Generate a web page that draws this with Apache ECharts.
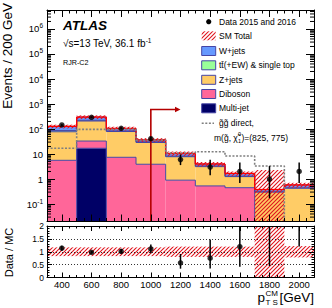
<!DOCTYPE html>
<html><head><meta charset="utf-8">
<script src="https://cdn.jsdelivr.net/npm/echarts@6/dist/echarts.min.js"></script>
<style>html,body{margin:0;padding:0;background:#fff}#c{width:332px;height:308px}</style>
</head><body><div id="c"></div>
<script>
// ---------------- data ----------------
const binLow  = [300, 500, 700, 900, 1100, 1300, 1500, 1700, 1900];
const binHigh = [500, 700, 900, 1100, 1300, 1500, 1700, 1900, 2100];
const binLabels = ['400', '600', '800', '1000', '1200', '1400', '1600', '1800', '2000'];
const multijet = [0, 17, 0, 0, 0, 0, 0, 0, 0];
const diboson  = [5.6, 16, 7.4, 3.9, 0.9, 0.53, 0.45, 0, 0];
const zjets    = [72, 176, 72, 25, 6.9, 2.6, 0.8, 0.3, 0.43];
const ttbar    = [9, 14, 5, 2, 0.4, 0.2, 0.05, 0.01, 0.01];
const wjets    = [41, 78, 21, 6, 2.3, 0.67, 0.37, 0.07, 0.14];
const smUncUp   = [0.17, 0.17, 0.17, 0.17, 0.2, 0.2, 0.2, 5.0, 0.22];
const smUncDown = [0.17, 0.17, 0.17, 0.17, 0.2, 0.2, 0.2, 1.0, 0.22];
const dataCounts  = [145, 295, 107, 41, 6, 3, 2, 1, 2];
const dataErrLow  = [133, 278, 97, 34.6, 3.6, 1.4, 0.7, 0.17, 0.7];
const dataErrHigh = [157, 312, 117, 47.4, 9.6, 5.9, 4.6, 3.3, 4.6];
const signal = [17, 97, 100, 36, 11, 12.4, 8.3, 3.3, 0];
const cutValue = 1000, arrowLevel = 600, arrowEnd = 1200;
const ratioTicks = [0, 0.5, 1, 1.5, 2];

// ---------------- setup ----------------
const FONT = '"Liberation Sans", Arial, Helvetica, sans-serif';
const X_MIN = 300, X_MAX = 2100, Y_MIN = 0.02, Y_MAX = 5.75e6;
const OUTLINE = '#4545a5';
const chart = echarts.init(document.getElementById('c'), null, {renderer: 'svg'});

function makeHatch(color, s, lw) {
  const c = document.createElement('canvas'); c.width = s; c.height = s;
  const g = c.getContext('2d'); g.strokeStyle = color; g.lineWidth = lw;
  g.beginPath();
  g.moveTo(-1, s + 1); g.lineTo(s + 1, -1);
  g.moveTo(-1, 1); g.lineTo(1, -1);
  g.moveTo(s - 1, s + 1); g.lineTo(s + 1, s - 1);
  g.stroke();
  return {image: c, repeat: 'repeat'};
}
const HATCH = makeHatch('#e0141e', 4, 1.1);

const comps = [
  {name: 'Multi-jet', vals: multijet, color: '#000066'},
  {name: 'Diboson', vals: diboson, color: '#ff6699'},
  {name: 'Z+jets', vals: zjets, color: '#ffcc66'},
  {name: 'tt̄(+EW) & single top', vals: ttbar, color: '#99ff99'},
  {name: 'W+jets', vals: wjets, color: '#6699ff'}
];
const total = binLow.map((_, i) => comps.reduce((s, c) => s + c.vals[i], 0));
const xMid = binLow.map((l, i) => (l + binHigh[i]) / 2);

function clampY(cs, y) { return Math.max(cs.y, Math.min(cs.y + cs.height, y)); }
function yOf(api, cs, v, isLog) {
  if (isLog && !(v > 0)) return cs.y + cs.height;
  return clampY(cs, api.coord([X_MIN, v])[1]);
}

let cum = binLow.map(() => 0);
const stackSeries = comps.map(c => {
  const lo = cum.slice();
  const hi = cum.map((v, i) => v + c.vals[i]);
  cum = hi;
  return {
    type: 'custom', name: c.name, xAxisIndex: 0, yAxisIndex: 0, z: 3, silent: true,
    data: binLow.map((x, i) => [x, binHigh[i], lo[i], hi[i]]),
    renderItem(params, api) {
      const i = params.dataIndex, cs = params.coordSys;
      const x0 = api.coord([binLow[i], 1])[0], x1 = api.coord([binHigh[i], 1])[0];
      const yLo = yOf(api, cs, lo[i], true), yHi = yOf(api, cs, hi[i], true);
      const ch = [];
      if (yLo - yHi > 0.01) ch.push({type: 'rect', z2: 0, shape: {x: x0, y: yHi, width: x1 - x0, height: yLo - yHi}, style: {fill: c.color}});
      if (c.vals[i] > 0) ch.push({type: 'line', z2: 5, shape: {x1: x0, y1: yHi, x2: x1, y2: yHi}, style: {stroke: OUTLINE, lineWidth: 1}});
      if (i < binLow.length - 1) {
        const yN = yOf(api, cs, hi[i + 1], true);
        if (Math.abs(yN - yHi) > 0.01 && (c.vals[i] > 0 || c.vals[i + 1] > 0))
          ch.push({type: 'line', z2: 5, shape: {x1: x1, y1: yHi, x2: x1, y2: yN}, style: {stroke: OUTLINE, lineWidth: 1}});
      }
      return {type: 'group', children: ch};
    }
  };
});

const smSeries = {
  type: 'custom', name: 'SM Total', xAxisIndex: 0, yAxisIndex: 0, z: 4, silent: true,
  data: binLow.map((x, i) => [x, binHigh[i], total[i]]),
  renderItem(params, api) {
    const i = params.dataIndex, cs = params.coordSys;
    const x0 = api.coord([binLow[i], 1])[0], x1 = api.coord([binHigh[i], 1])[0];
    const yT = yOf(api, cs, total[i], true);
    const yU = yOf(api, cs, total[i] * (1 + smUncUp[i]), true);
    const yD = yOf(api, cs, total[i] * (1 - smUncDown[i]), true);
    const ch = [
      {type: 'rect', shape: {x: x0, y: yU, width: x1 - x0, height: yD - yU}, style: {fill: HATCH}},
      {type: 'line', shape: {x1: x0, y1: yT, x2: x1, y2: yT}, style: {stroke: '#ff0000', lineWidth: 1.3}}
    ];
    if (i < binLow.length - 1) {
      const yN = yOf(api, cs, total[i + 1], true);
      ch.push({type: 'line', shape: {x1: x1, y1: yT, x2: x1, y2: yN}, style: {stroke: '#ff0000', lineWidth: 1.3}});
    }
    return {type: 'group', children: ch};
  }
};

const sigFloor = 1e-4;
const signalSeries = {
  type: 'line', name: 'gg direct', xAxisIndex: 0, yAxisIndex: 0, z: 5, silent: true,
  step: 'end', symbol: 'none', clip: true,
  data: binLow.map((x, i) => [x, Math.max(signal[i], sigFloor)]).concat([[binHigh[binHigh.length - 1], Math.max(signal[signal.length - 1], sigFloor)]]),
  lineStyle: {color: '#7f7f7f', width: 1.6, type: [2, 1.6]}
};

const arrowSeries = {
  type: 'custom', xAxisIndex: 0, yAxisIndex: 0, z: 6, silent: true,
  data: [[cutValue, arrowLevel, arrowEnd]],
  renderItem(params, api) {
    const cs = params.coordSys;
    const p1 = api.coord([cutValue, arrowLevel]), p2 = api.coord([arrowEnd, arrowLevel]);
    const yb = cs.y + cs.height;
    return {type: 'group', children: [
      {type: 'polyline', shape: {points: [[p1[0], yb], [p1[0], p1[1]], [p2[0] - 4, p2[1]]]}, style: {stroke: '#b40000', lineWidth: 1.6, fill: null}},
      {type: 'polygon', shape: {points: [[p2[0], p2[1]], [p2[0] - 5.5, p2[1] - 2.7], [p2[0] - 5.5, p2[1] + 2.7]]}, style: {fill: '#b40000'}}
    ]};
  }
};

function errBarSeries(xi, yi, lows, highs, isLog, z) {
  return {
    type: 'custom', xAxisIndex: xi, yAxisIndex: yi, z: z, silent: true,
    data: xMid.map((x, i) => [x, lows[i], highs[i]]),
    renderItem(params, api) {
      const i = params.dataIndex, cs = params.coordSys;
      const x = api.coord([xMid[i], 1])[0];
      const y1 = yOf(api, cs, lows[i], isLog), y2 = yOf(api, cs, highs[i], isLog);
      return {type: 'line', shape: {x1: x, y1: y1, x2: x, y2: y2}, style: {stroke: '#000', lineWidth: 1.5}};
    }
  };
}

const dataSeries = {
  type: 'scatter', name: 'Data 2015 and 2016', xAxisIndex: 0, yAxisIndex: 0, z: 8, silent: true,
  symbol: 'circle', symbolSize: 5.5, itemStyle: {color: '#000'},
  data: xMid.map((x, i) => [x, dataCounts[i]])
};

// minor log ticks (2..9 x 10^k) drawn through the y scale
const logMinor = [];
for (let k = -2; k <= 6; k++) for (let m = 2; m <= 9; m++) { const v = m * Math.pow(10, k); if (v > Y_MIN && v < Y_MAX) logMinor.push(v); }
const logMinorSeries = {
  type: 'custom', xAxisIndex: 0, yAxisIndex: 0, z: 11, silent: true,
  data: logMinor.map(v => [X_MIN, v]),
  renderItem(params, api) {
    const cs = params.coordSys;
    const y = api.coord([X_MIN, logMinor[params.dataIndex]])[1];
    return {type: 'group', children: [
      {type: 'line', shape: {x1: cs.x, y1: y, x2: cs.x + 4, y2: y}, style: {stroke: '#000', lineWidth: 1}},
      {type: 'line', shape: {x1: cs.x + cs.width - 4, y1: y, x2: cs.x + cs.width, y2: y}, style: {stroke: '#000', lineWidth: 1}}
    ]};
  }
};

// ratio panel
const ratioBand = {
  type: 'custom', xAxisIndex: 4, yAxisIndex: 2, z: 4, silent: true,
  data: binLow.map((x, i) => [x, binHigh[i], 1 - smUncDown[i], 1 + smUncUp[i]]),
  renderItem(params, api) {
    const i = params.dataIndex, cs = params.coordSys;
    const x0 = api.coord([binLow[i], 1])[0], x1 = api.coord([binHigh[i], 1])[0];
    const yU = yOf(api, cs, 1 + smUncUp[i], false), yD = yOf(api, cs, 1 - smUncDown[i], false);
    return {type: 'rect', shape: {x: x0, y: yU, width: x1 - x0, height: yD - yU}, style: {fill: HATCH}};
  }
};
const ratioVals = dataCounts.map((d, i) => d / total[i]);
const ratioPoints = {
  type: 'scatter', xAxisIndex: 4, yAxisIndex: 2, z: 8, silent: true, clip: true,
  symbol: 'circle', symbolSize: 5.5, itemStyle: {color: '#000'},
  data: xMid.map((x, i) => [x, ratioVals[i]])
};
const ratioErr = errBarSeries(4, 2, dataErrLow.map((v, i) => v / total[i]), dataErrHigh.map((v, i) => v / total[i]), false, 7);

// ---------------- axes ----------------
function xVal(grid, pos, len) {
  return {type: 'value', gridIndex: grid, position: pos, min: X_MIN, max: X_MAX, interval: 50, z: 10,
    axisLine: {show: true, onZero: false, lineStyle: {color: '#000', width: 1}},
    axisTick: {show: true, inside: true, length: len, lineStyle: {color: '#000', width: 1}},
    axisLabel: {show: false}, splitLine: {show: false}};
}
function xCat(grid, pos, len, labels) {
  return {type: 'category', gridIndex: grid, position: pos, data: binLabels, boundaryGap: true, z: 10,
    axisLine: {show: false, onZero: false},
    axisTick: {show: true, inside: true, alignWithLabel: true, interval: 0, length: len, lineStyle: {color: '#000', width: 1}},
    axisLabel: labels ? {show: true, interval: 0, fontSize: 9.5, lineHeight: 8, color: '#000', margin: 2.5, fontFamily: FONT} : {show: false},
    splitLine: {show: false}};
}
function logLabel(v) {
  const l = Math.log10(v), e = Math.round(l);
  if (Math.abs(l - e) > 1e-6) return '';
  if (e === 0) return '1';
  if (e === 1) return '10';
  return '10{s|' + e + '}';
}
function yLog(pos, labels) {
  return {type: 'log', logBase: 10, gridIndex: 0, position: pos, min: Y_MIN, max: Y_MAX, z: 10,
    axisLine: {show: true, onZero: false, lineStyle: {color: '#000', width: 1}},
    axisTick: {show: true, inside: true, length: 8, lineStyle: {color: '#000', width: 1}},
    axisLabel: labels ? {show: true, formatter: logLabel, fontSize: 9.5, lineHeight: 13, color: '#000', margin: 4, fontFamily: FONT,
      rich: {s: {fontSize: 6.5, lineHeight: 7, verticalAlign: 'top', fontFamily: FONT, color: '#000'}}} : {show: false},
    splitLine: {show: false}};
}
function yRatio(pos, labels) {
  return {type: 'value', gridIndex: 1, position: pos, min: ratioTicks[0], max: ratioTicks[ratioTicks.length - 1], interval: ratioTicks[1] - ratioTicks[0], z: 10,
    axisLine: {show: true, onZero: false, lineStyle: {color: '#000', width: 1}},
    axisTick: {show: true, inside: true, length: 5, lineStyle: {color: '#000', width: 1}},
    minorTick: {show: true, splitNumber: 5, length: 2.5, lineStyle: {color: '#000', width: 1}},
    axisLabel: labels ? {show: true, fontSize: 8.5, color: '#000', margin: 3, fontFamily: FONT} : {show: false},
    splitLine: labels ? {show: true, lineStyle: {color: '#000', width: 0.8, type: [1, 2]}} : {show: false}};
}

// ---------------- legend / texts (graphic) ----------------
const mctx = document.createElement('canvas').getContext('2d');
function tw(t, size, weight) { mctx.font = (weight || '') + ' ' + size + 'px ' + FONT; return mctx.measureText(t).width; }
const LX = 201.7, LT = 219, LFS = 8.5;
const legendRows = [
  {y: 51, c: comps[4]}, {y: 65.3, c: comps[3]}, {y: 79.8, c: comps[2]}, {y: 94, c: comps[1]}, {y: 108.3, c: comps[0]}
];
const g = [];
function txt(x, y, text, size, extra) {
  return {type: 'text', x: x, y: y, style: Object.assign({text: text, fontSize: size, fontFamily: FONT, fill: '#000', textVerticalAlign: 'middle', verticalAlign: 'middle'}, extra || {})};
}
g.push({type: 'circle', shape: {cx: 208.7, cy: 21.7, r: 2.6}, style: {fill: '#000'}});
g.push(txt(LT, 21.7, 'Data 2015 and 2016', LFS));
g.push({type: 'rect', shape: {x: LX, y: 31.3, width: 14, height: 9}, style: {fill: HATCH}});
g.push(txt(LT, 35.7, 'SM Total', LFS));
legendRows.forEach(r => {
  g.push({type: 'rect', shape: {x: LX, y: r.y - 4.5, width: 14, height: 9}, style: {fill: r.c.color, stroke: OUTLINE, lineWidth: 1}});
  g.push(txt(LT, r.y, r.c.name, LFS));
});
g.push({type: 'line', shape: {x1: LX, y1: 123.3, x2: 214, y2: 123.3}, style: {stroke: '#7f7f7f', lineWidth: 1.6, lineDash: [2, 1.6]}});
g.push(txt(LT, 123.3, 'g̃g̃ direct,', LFS));
const mA = 'm(g̃, χ̃', mB = ')=(825, 775)';
const mx = 214, my = 137.7, wA = tw(mA, LFS);
g.push(txt(mx, my, mA, LFS));
g.push(txt(mx + wA + 0.3, my - 3.6, '0', 5.5, {lineHeight: 5}));
g.push(txt(mx + wA + 0.3, my + 3.4, '1', 5.5, {lineHeight: 5}));
g.push(txt(mx + wA + 3.6, my, mB, LFS));
// ATLAS label
g.push(txt(63, 25, 'ATLAS', 13.5, {fontWeight: 'bold', fontStyle: 'italic'}));
g.push({type: 'text', x: 63, y: 43, style: {text: '{a|√s=13 TeV, 36.1 fb}{b|-1}', fontFamily: FONT, verticalAlign: 'middle', textVerticalAlign: 'middle',
  rich: {a: {fontSize: 10, lineHeight: 13, fontFamily: FONT, fill: '#000', color: '#000'}, b: {fontSize: 6.5, lineHeight: 7, verticalAlign: 'top', fontFamily: FONT, fill: '#000', color: '#000'}}}});
g.push(txt(63, 62, 'RJR-C2', 7.2));
// axis titles
g.push({type: 'text', x: 7.5, y: 3, rotation: Math.PI / 2, style: {text: 'Events / 200 GeV', fontSize: 13.5, fontFamily: FONT, fill: '#000', align: 'right', textAlign: 'right', verticalAlign: 'middle', textVerticalAlign: 'middle'}});
g.push({type: 'text', x: 9, y: 252.5, rotation: Math.PI / 2, style: {text: 'Data / MC', fontSize: 11, fontFamily: FONT, fill: '#000', align: 'center', textAlign: 'center', verticalAlign: 'middle', textVerticalAlign: 'middle'}});
const XFS = 13.5, xr = 314, wG = tw('[GeV]', XFS), wCM = Math.max(tw('CM', 8), tw('T S', 8)), wp = tw('p', XFS);
g.push(txt(xr - wG, 297, '[GeV]', XFS, {lineHeight: 12}));
g.push(txt(xr - wG - wCM - 1.5, 293, 'CM', 8, {lineHeight: 6}));
g.push(txt(xr - wG - wCM - 1.5, 302, 'T S', 8, {lineHeight: 6}));
g.push(txt(xr - wG - wCM - 2 - wp, 297, 'p', XFS, {lineHeight: 12}));

chart.setOption({
  animation: false,
  backgroundColor: '#fff',
  textStyle: {fontFamily: FONT},
  grid: [
    {left: 47, top: 10, width: 267, height: 211.5},
    {left: 47, top: 226, width: 267, height: 51.5}
  ],
  xAxis: [
    xVal(0, 'bottom', 3.5), xCat(0, 'bottom', 7, false), xVal(0, 'top', 3.5), xCat(0, 'top', 7, false),
    xVal(1, 'bottom', 2.5), xCat(1, 'bottom', 5, true), xVal(1, 'top', 2.5), xCat(1, 'top', 5, false)
  ],
  yAxis: [yLog('left', true), yLog('right', false), yRatio('left', true), yRatio('right', false)],
  series: stackSeries.concat([smSeries, signalSeries, arrowSeries,
    errBarSeries(0, 0, dataErrLow, dataErrHigh, true, 7), dataSeries, logMinorSeries,
    ratioBand, ratioErr, ratioPoints]),
  graphic: g
});
</script></body></html>
